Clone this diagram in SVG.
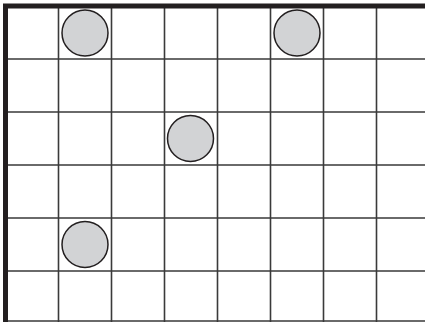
<svg xmlns="http://www.w3.org/2000/svg" width="425" height="322" viewBox="0 0 425 322">
<style>
.g{stroke:#3a3a3a;stroke-width:1.6;fill:none}
.b{stroke:#231f20;stroke-width:5;fill:none}
.c{fill:#d2d3d5;stroke:#231f20;stroke-width:1.5}
</style>
<rect width="425" height="322" fill="#fff"/>
<g id="grid">
<path class="g" d="M58.5 6V322M111.5 6V322M164.5 6V322M217.5 6V322M270.5 6V322M323.5 6V322M376.5 6V322"/>
<path class="g" d="M6 59H425M6 112H425M6 165H425M6 218H425M6 271H425M6 321H425"/>
<path class="b" d="M5.5 322V6H425"/>
</g>
<g id="c1"><circle class="c" cx="85" cy="33" r="23"/></g>
<g id="c2"><circle class="c" cx="297" cy="33" r="23"/></g>
<g id="c3"><circle class="c" cx="190.5" cy="138.5" r="23"/></g>
<g id="c4"><circle class="c" cx="85" cy="244.5" r="23"/></g>
</svg>
